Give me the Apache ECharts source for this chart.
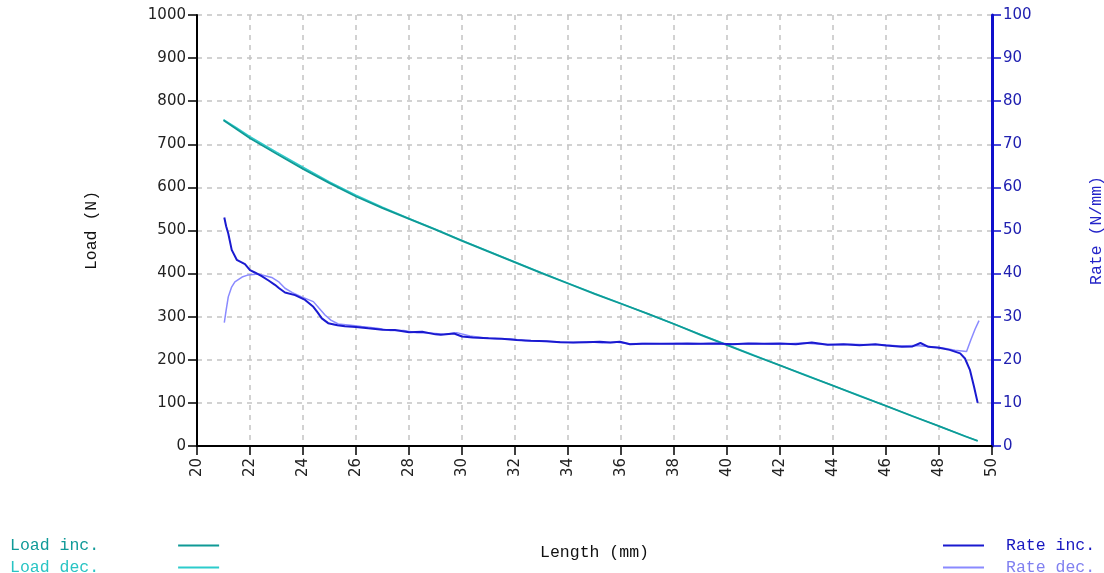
<!DOCTYPE html>
<html>
<head>
<meta charset="utf-8">
<script src="https://cdn.jsdelivr.net/npm/echarts@6/dist/echarts.min.js"></script>
<style>
html,body{margin:0;padding:0;background:#fff;}
#chart{width:1104px;height:573px;}
</style>
</head>
<body>
<div id="chart"></div>
<script>
// Length (mm) vs Load (N)
const loadInc = [[21.0,756],[21.5,735],[22.0,714],[22.5,696],[23,678],[24,643],[25,610],[26,579],[27,552],[28,527],[29,502],[30,476],[31,451],[32,426],[33,401],[34,377],[35,353],[36,330],[37,307],[38,283],[39,258],[40,234],[41,210],[42,187],[43,163],[44,140],[45,116],[46,93],[47,69],[48,46],[49,22],[49.46,12]];
const loadDec = [[21.0,757],[21.5,738],[22.0,718],[22.5,700],[23,682],[24,647],[25,613],[26,582],[27,554],[28,528],[29,503],[30,477],[31,452],[32,427],[33,402],[34,378],[35,354],[36,331],[37,307],[38,283],[39,259],[40,235],[41,211],[42,187],[43,164],[44,140],[45,117],[46,93],[47,70],[48,46],[49,23],[49.46,12]];
// Length (mm) vs Rate (N/mm)
const rateInc = [[21.03,53.0],[21.1,51],[21.18,49.3],[21.31,45.5],[21.5,43.2],[21.81,42.2],[22.0,40.8],[22.2,40.2],[22.44,39.4],[22.7,38.4],[22.94,37.4],[23.1,36.6],[23.32,35.6],[23.7,35.0],[24.08,33.9],[24.39,32.3],[24.55,31.0],[24.71,29.6],[24.95,28.5],[25.3,28.0],[25.58,27.8],[26.0,27.6],[26.46,27.3],[27.0,27.0],[27.47,26.9],[28.0,26.4],[28.5,26.5],[29.0,25.9],[29.2,25.8],[29.7,26.1],[30.0,25.4],[30.4,25.2],[31.0,25.0],[31.5,24.9],[32.06,24.6],[32.6,24.4],[33.2,24.3],[33.7,24.1],[34.19,24.0],[34.7,24.1],[35.2,24.2],[35.6,24.0],[35.96,24.2],[36.34,23.6],[36.8,23.7],[37.4,23.7],[37.96,23.7],[38.5,23.8],[39.0,23.7],[39.6,23.8],[40.2,23.6],[40.8,23.8],[41.4,23.7],[42.0,23.8],[42.6,23.6],[43.2,24.0],[43.8,23.5],[44.4,23.6],[45.0,23.4],[45.6,23.6],[46.0,23.3],[46.6,23.0],[47.0,23.1],[47.3,23.9],[47.6,23.0],[48.0,22.8],[48.4,22.3],[48.8,21.5],[48.98,20.3],[49.17,17.6],[49.32,13.8],[49.46,10.0]];
const rateDec = [[21.03,28.6],[21.1,31.5],[21.18,34.6],[21.3,36.8],[21.43,38.1],[21.7,39.2],[21.94,39.7],[22.31,39.9],[22.82,39.1],[23.1,38.0],[23.32,36.6],[23.6,35.6],[23.95,34.6],[24.39,33.5],[24.6,32.0],[24.83,30.4],[25.05,29.2],[25.33,28.3],[25.8,28.0],[26.21,27.7],[26.8,27.3],[27.3,26.8],[27.8,26.8],[28.3,26.3],[28.8,26.2],[29.3,25.9],[29.8,26.3],[30.3,25.5],[30.8,25.1],[31.3,24.9],[31.8,24.9],[32.4,24.4],[33.0,24.3],[33.6,24.2],[34.2,24.0],[34.8,24.2],[35.3,23.9],[35.8,24.1],[36.3,23.7],[36.9,23.8],[37.5,23.7],[38.1,23.8],[38.7,23.6],[39.3,23.8],[39.9,23.7],[40.5,23.7],[41.1,23.8],[41.7,23.6],[42.3,23.7],[42.9,23.9],[43.5,23.6],[44.1,23.5],[44.7,23.6],[45.3,23.5],[45.9,23.5],[46.5,23.2],[47.1,23.3],[47.6,23.1],[48.1,22.8],[48.6,22.2],[49.04,21.9],[49.2,24.6],[49.36,27.1],[49.51,29.1]];

const colors = {'Load inc.':'#0f9a96','Load dec.':'#2ccccc','Rate inc.':'#1a1ad0','Rate dec.':'#8a8aff'};
const legendTextColors = {'Load inc.':'#109a98','Load dec.':'#28c4c4','Rate inc.':'#1818c0','Rate dec.':'#8080f0'};

const chart = echarts.init(document.getElementById('chart'));
const labelFont = {fontFamily:'DejaVu Sans', fontSize:15, color:'#222', formatter:v=>String(v)};
const monoFont = 'Liberation Mono';

function lineSeries(name, data, yIdx, width, z){
  return {name, type:'line', yAxisIndex:yIdx, data, showSymbol:false, symbol:'none',
    lineStyle:{color:colors[name], width}, itemStyle:{color:colors[name]}, z, animation:false};
}
const legendItem = n => ({name:n, textStyle:{color:legendTextColors[n]}});

chart.setOption({
  backgroundColor:'#fff',
  animation:false,
  grid:{left:197, right:112, top:15, bottom:127, outerBoundsMode:'none', containLabel:false},
  legend:[
    {data:['Load inc.','Load dec.'].map(legendItem), orient:'vertical', left:10, top:537, height:40, itemGap:5, align:'right',
     icon:'rect', itemWidth:41, itemHeight:2, padding:0,
     textStyle:{fontFamily:monoFont, fontSize:16.5, lineHeight:16, padding:[0,74,0,0]}},
    {data:['Rate inc.','Rate dec.'].map(legendItem), orient:'vertical', left:943, top:537, height:40, itemGap:5, align:'left',
     icon:'rect', itemWidth:41, itemHeight:2, padding:0,
     textStyle:{fontFamily:monoFont, fontSize:16.5, lineHeight:16, padding:[0,0,0,17]}}
  ],
  xAxis:{type:'value', min:20, max:50, interval:2,
    name:'Length (mm)', nameLocation:'middle', nameGap:98,
    nameTextStyle:{fontFamily:monoFont, fontSize:16.5, color:'#111'},
    axisLine:{show:true, lineStyle:{color:'#000', width:2}},
    axisTick:{show:true, inside:false, length:9, lineStyle:{color:'#000', width:1.5}},
    axisLabel:Object.assign({rotate:90, margin:12}, labelFont),
    splitLine:{show:true, lineStyle:{color:'#c4c4c4', type:[5,5], width:1.5}}},
  yAxis:[
    {type:'value', min:0, max:1000, interval:100, position:'left',
     name:'Load (N)', nameLocation:'middle', nameRotate:90, nameGap:97,
     nameTextStyle:{fontFamily:monoFont, fontSize:16.5, color:'#111'},
     axisLine:{show:true, lineStyle:{color:'#000', width:2}},
     axisTick:{show:true, length:9, lineStyle:{color:'#000', width:1.5}},
     axisLabel:Object.assign({margin:11}, labelFont),
     splitLine:{show:true, lineStyle:{color:'#c4c4c4', type:[5,5], width:1.5}}},
    {type:'value', min:0, max:100, interval:10, position:'right',
     name:'Rate (N/mm)', nameLocation:'middle', nameRotate:90, nameGap:96,
     nameTextStyle:{fontFamily:monoFont, fontSize:16.5, color:'#2424c8'},
     axisLine:{show:true, lineStyle:{color:'#1010cc', width:3}},
     axisTick:{show:true, length:9, lineStyle:{color:'#1010cc', width:1.5}},
     axisLabel:{margin:11, fontFamily:'DejaVu Sans', fontSize:15, color:'#2020b0', formatter:v=>String(v)},
     splitLine:{show:false}}
  ],
  series:[
    lineSeries('Load dec.', loadDec, 0, 1.5, 2),
    lineSeries('Load inc.', loadInc, 0, 1.8, 3),
    lineSeries('Rate dec.', rateDec, 1, 1.5, 4),
    lineSeries('Rate inc.', rateInc, 1, 2, 5)
  ]
});
</script>
</body>
</html>
